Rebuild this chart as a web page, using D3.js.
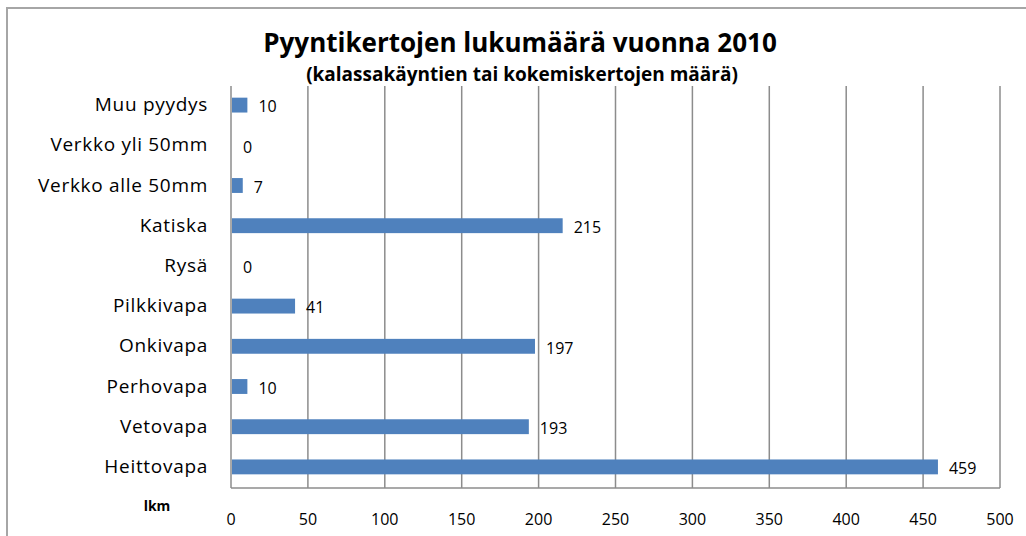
<!DOCTYPE html>
<html>
<head>
<meta charset="utf-8">
<script src="https://cdn.jsdelivr.net/npm/d3@7"></script>
<style>
  body { margin: 0; background: #fff; }
  svg { display: block; font-family: "Open Sans", "Noto Sans", sans-serif; }
</style>
</head>
<body>
<svg width="1026" height="536"></svg>
<script>
// pyydykset, ylhäältä alas
const categories = ["Muu pyydys", "Verkko yli 50mm", "Verkko alle 50mm", "Katiska", "Rysä",
  "Pilkkivapa", "Onkivapa", "Perhovapa", "Vetovapa", "Heittovapa"];
const values = [10, 0, 7, 215, 0, 41, 197, 10, 193, 459];
const xTicks = [0, 50, 100, 150, 200, 250, 300, 350, 400, 450, 500];

const title = "Pyyntikertojen lukumäärä vuonna 2010";
const subtitle = "(kalassakäyntien tai kokemiskertojen määrä)";
const axisTitle = "lkm";

const data = categories.map((c, i) => ({ name: c, value: values[i] }));

const svg = d3.select("svg");

// kehys
svg.append("rect")
  .attr("x", 7).attr("y", 8)
  .attr("width", 1040).attr("height", 560)
  .attr("fill", "none")
  .attr("stroke", "#a6a6a6")
  .attr("stroke-width", 2);

const plotLeft = 231, plotRight = 1000, plotTop = 86, plotBottom = 488;

const x = d3.scaleLinear().domain([0, 500]).range([plotLeft, plotRight]);
const y = d3.scaleBand().domain(categories).range([plotTop, plotBottom]).paddingInner(0.63).paddingOuter(0.315);

// ruudukko
svg.append("g")
  .selectAll("line")
  .data(xTicks.slice(1))
  .join("line")
  .attr("x1", d => x(d)).attr("x2", d => x(d))
  .attr("y1", plotTop).attr("y2", plotBottom)
  .attr("stroke", "#8c8c8c")
  .attr("stroke-width", 1.5);

// akselit
svg.append("line")
  .attr("x1", plotLeft).attr("x2", plotLeft)
  .attr("y1", plotTop).attr("y2", plotBottom)
  .attr("stroke", "#8c8c8c").attr("stroke-width", 1.5);
svg.append("line")
  .attr("x1", plotLeft).attr("x2", plotRight)
  .attr("y1", plotBottom).attr("y2", plotBottom)
  .attr("stroke", "#8c8c8c").attr("stroke-width", 1.5);

// palkit
svg.append("g")
  .selectAll("rect")
  .data(data)
  .join("rect")
  .attr("x", x(0) + 1)
  .attr("y", d => y(d.name) - 1)
  .attr("width", d => Math.max(0, x(d.value) - x(0)))
  .attr("height", y.bandwidth())
  .attr("fill", "#4f81bd");

// arvot
svg.append("g")
  .selectAll("text")
  .data(data)
  .join("text")
  .attr("x", d => x(d.value) + 12)
  .attr("y", d => y(d.name) + y.bandwidth() / 2 + 2)
  .attr("dominant-baseline", "middle")
  .attr("font-size", 16)
  .attr("fill", "#000")
  .text(d => d.value);

// kategoriat
svg.append("g")
  .selectAll("text")
  .data(data)
  .join("text")
  .attr("x", 208)
  .attr("y", d => y(d.name) + y.bandwidth() / 2)
  .attr("dominant-baseline", "middle")
  .attr("text-anchor", "end")
  .attr("font-size", 19)
  .attr("letter-spacing", 0.7)
  .attr("fill", "#000")
  .text(d => d.name);

// x-akselin luvut
svg.append("g")
  .selectAll("text")
  .data(xTicks)
  .join("text")
  .attr("x", d => x(d))
  .attr("y", 521)
  .attr("dominant-baseline", "middle")
  .attr("text-anchor", "middle")
  .attr("font-size", 16)
  .text(d => d);

svg.append("text")
  .attr("x", 157).attr("y", 507)
  .attr("dominant-baseline", "middle")
  .attr("text-anchor", "middle")
  .attr("font-size", 14)
  .attr("font-weight", "bold")
  .text(axisTitle);

svg.append("text")
  .attr("x", 520).attr("y", 45)
  .attr("dominant-baseline", "middle")
  .attr("text-anchor", "middle")
  .attr("font-size", 26)
  .attr("font-weight", "bold")
  .text(title);

svg.append("text")
  .attr("x", 522).attr("y", 76)
  .attr("dominant-baseline", "middle")
  .attr("text-anchor", "middle")
  .attr("font-size", 19)
  .attr("font-weight", "bold")
  .text(subtitle);
</script>
</body>
</html>
